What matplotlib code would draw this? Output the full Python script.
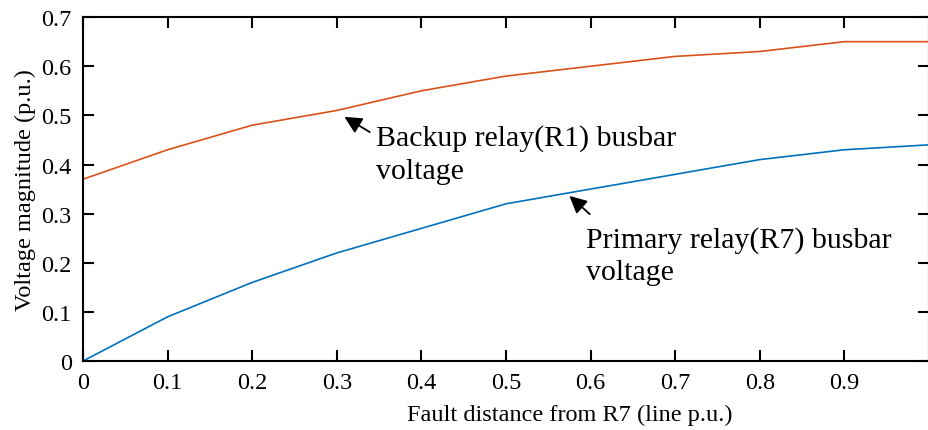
import matplotlib
matplotlib.use("Agg")
import matplotlib.pyplot as plt

# fault distance from R7 (line p.u.)
distance = [0, 0.1, 0.2, 0.3, 0.4, 0.5, 0.6, 0.7, 0.8, 0.9, 1.0]
backup_r1 = [0.37, 0.43, 0.48, 0.51, 0.55, 0.58, 0.60, 0.62, 0.63, 0.65, 0.65]
primary_r7 = [0.0, 0.09, 0.16, 0.22, 0.27, 0.32, 0.35, 0.38, 0.41, 0.43, 0.44]
xticks = [0, 0.1, 0.2, 0.3, 0.4, 0.5, 0.6, 0.7, 0.8, 0.9]
yticks = [0, 0.1, 0.2, 0.3, 0.4, 0.5, 0.6, 0.7]

plt.rcParams["font.family"] = ["Liberation Serif", "DejaVu Serif"]

fig = plt.figure(figsize=(9.29, 4.31), dpi=100)
ax = fig.add_axes([0.0893, 0.160, 0.9107, 0.798])
ax.plot(distance, backup_r1, color="#D95319", lw=1.2)
ax.plot(distance, primary_r7, color="#0072BD", lw=1.2)

ax.set_xlim(0, 1.0)
ax.set_ylim(0, 0.7)
ax.set_xticks(xticks)
ax.set_xticklabels(["0"] + [f"{v:g}" for v in xticks[1:]])
ax.set_yticks(yticks)
ax.set_yticklabels(["0"] + [f"{v:g}" for v in yticks[1:]])
ax.tick_params(direction="in", top=True, right=True, length=8, width=1.5,
               labelsize=17.5, pad=8)
for s in ax.spines.values():
    s.set_linewidth(1.5)

ax.set_xlabel("Fault distance from R7 (line p.u.)", fontsize=17.5, labelpad=5)
ax.xaxis.set_label_coords(0.575, -0.125)
ax.set_ylabel("Voltage magnitude (p.u.)", fontsize=17.5, labelpad=4)

arrow = dict(arrowstyle="-|>", color="black", lw=1.3, mutation_scale=26,
             shrinkA=0, shrinkB=0)
ax.annotate("", xy=(0.309, 0.497), xytext=(0.339, 0.466), arrowprops=arrow)
ax.text(0.346, 0.482, "Backup relay(R1) busbar\nvoltage", fontsize=21.5,
        va="top", ha="left", linespacing=1.35)
ax.annotate("", xy=(0.575, 0.336), xytext=(0.599, 0.299), arrowprops=arrow)
ax.text(0.595, 0.275, "Primary relay(R7) busbar\nvoltage", fontsize=21.5,
        va="top", ha="left", linespacing=1.3)

fig.savefig("out.png", dpi=100)
